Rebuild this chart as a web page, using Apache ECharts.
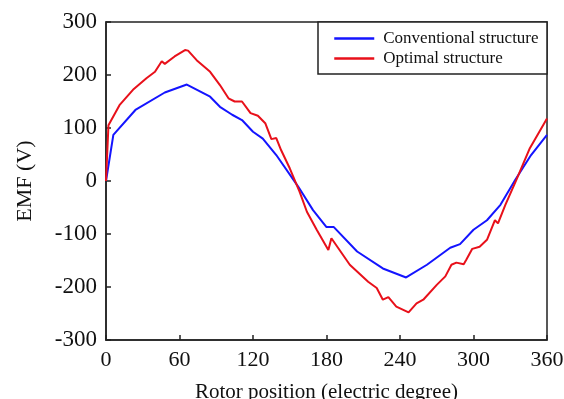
<!DOCTYPE html>
<html>
<head>
<meta charset="utf-8">
<script src="https://cdn.jsdelivr.net/npm/echarts@6/dist/echarts.min.js"></script>
<style>
html,body{margin:0;padding:0;background:#fff;}
#chart{width:564px;height:399px;}
</style>
</head>
<body>
<div id="chart"></div>
<script>
// Conventional structure (blue)
var convX = [0, 6, 24, 48, 66, 85, 93, 103, 111, 120, 128, 139, 157, 169, 180, 186, 205, 226, 245, 262, 281, 289, 300, 311, 322, 334, 347, 360];
var convY = [0, 87, 134, 167, 182, 159, 140, 125, 115, 93, 80, 49, -11, -55, -87, -87, -133, -165, -182, -158, -126, -119, -92, -74, -45, 2, 49, 87];
// Optimal structure (red)
var optX = [0, 2, 11, 22, 33, 40, 45.5, 48, 56, 64.5, 67, 74, 85, 93, 100, 105, 111, 118, 124, 130, 135, 139, 143, 150, 158, 164, 172, 181.5, 184, 199, 214, 221, 226, 230.5, 237, 247, 253.5, 259, 270, 277, 282, 286, 292, 294, 299, 305, 311, 317.5, 320, 326, 335, 346, 360];
var optY = [0, 105, 143, 172, 194, 206, 226, 221, 235, 247, 246, 228, 206, 181, 156, 150, 150, 128, 123, 109, 79, 81, 58, 24, -20, -58, -92, -130, -108, -158, -190, -202, -224, -219, -237, -248, -231, -224, -196, -180, -158, -154, -157, -149, -128, -124, -111, -74, -80, -45, 2, 62, 118];
var seriesNames = ['Conventional structure', 'Optimal structure'];
var xTicks = [0, 60, 120, 180, 240, 300, 360];
var yTicks = [-300, -200, -100, 0, 100, 200, 300];

function pairs(xs, ys) { return xs.map(function (x, i) { return [x, ys[i]]; }); }

var font = 'Liberation Serif, Times New Roman, serif';
var chart = echarts.init(document.getElementById('chart'));
chart.setOption({
  animation: false,
  backgroundColor: '#fff',
  grid: { left: 106, top: 22, right: 17, bottom: 59, outerBoundsMode: 'none', containLabel: false,
    show: true, borderColor: '#222', borderWidth: 1.5, backgroundColor: 'transparent' },
  legend: {
    orient: 'vertical', left: 333, top: 30, padding: 0, itemGap: 3,
    itemWidth: 40, itemHeight: 14, z: 20,
    itemStyle: { opacity: 0 },
    lineStyle: { width: 2.5 },
    textStyle: { fontFamily: font, fontSize: 17, color: '#111', padding: [0, 0, 0, 4] },
    data: seriesNames
  },
  graphic: [{
    type: 'rect', shape: { x: 318, y: 22, width: 229, height: 52 },
    style: { fill: '#fff', stroke: '#222', lineWidth: 1.5 }, z: 2
  }],
  xAxis: {
    type: 'value', min: xTicks[0], max: xTicks[xTicks.length - 1], interval: 60,
    name: 'Rotor position (electric degree)', nameLocation: 'middle', nameGap: 42,
    nameTextStyle: { fontFamily: font, fontSize: 21, color: '#111' },
    axisLine: { show: true, onZero: false, lineStyle: { color: '#222', width: 1.5 } },
    axisTick: { show: true, inside: true, length: 5, lineStyle: { color: '#222', width: 1.5 } },
    axisLabel: { fontFamily: font, fontSize: 22, color: '#111', margin: 9 },
    splitLine: { show: false }
  },
  yAxis: {
    type: 'value', min: yTicks[0], max: yTicks[yTicks.length - 1], interval: 100,
    name: 'EMF (V)', nameLocation: 'middle', nameGap: 70, nameRotate: 90,
    nameTextStyle: { fontFamily: font, fontSize: 22, color: '#111' },
    axisLine: { show: true, onZero: false, lineStyle: { color: '#222', width: 1.5 } },
    axisTick: { show: true, inside: true, length: 5, lineStyle: { color: '#222', width: 1.5 } },
    axisLabel: { fontFamily: font, fontSize: 23, color: '#111', margin: 9 },
    splitLine: { show: false }
  },
  series: [
    { name: seriesNames[0], type: 'line', data: pairs(convX, convY), showSymbol: false, symbol: 'none',
      lineStyle: { color: '#1414ff', width: 2 }, itemStyle: { color: '#1414ff' }, z: 3 },
    { name: seriesNames[1], type: 'line', data: pairs(optX, optY), showSymbol: false, symbol: 'none',
      lineStyle: { color: '#e8101a', width: 2 }, itemStyle: { color: '#e8101a' }, z: 4 }
  ]
});
</script>
</body>
</html>
